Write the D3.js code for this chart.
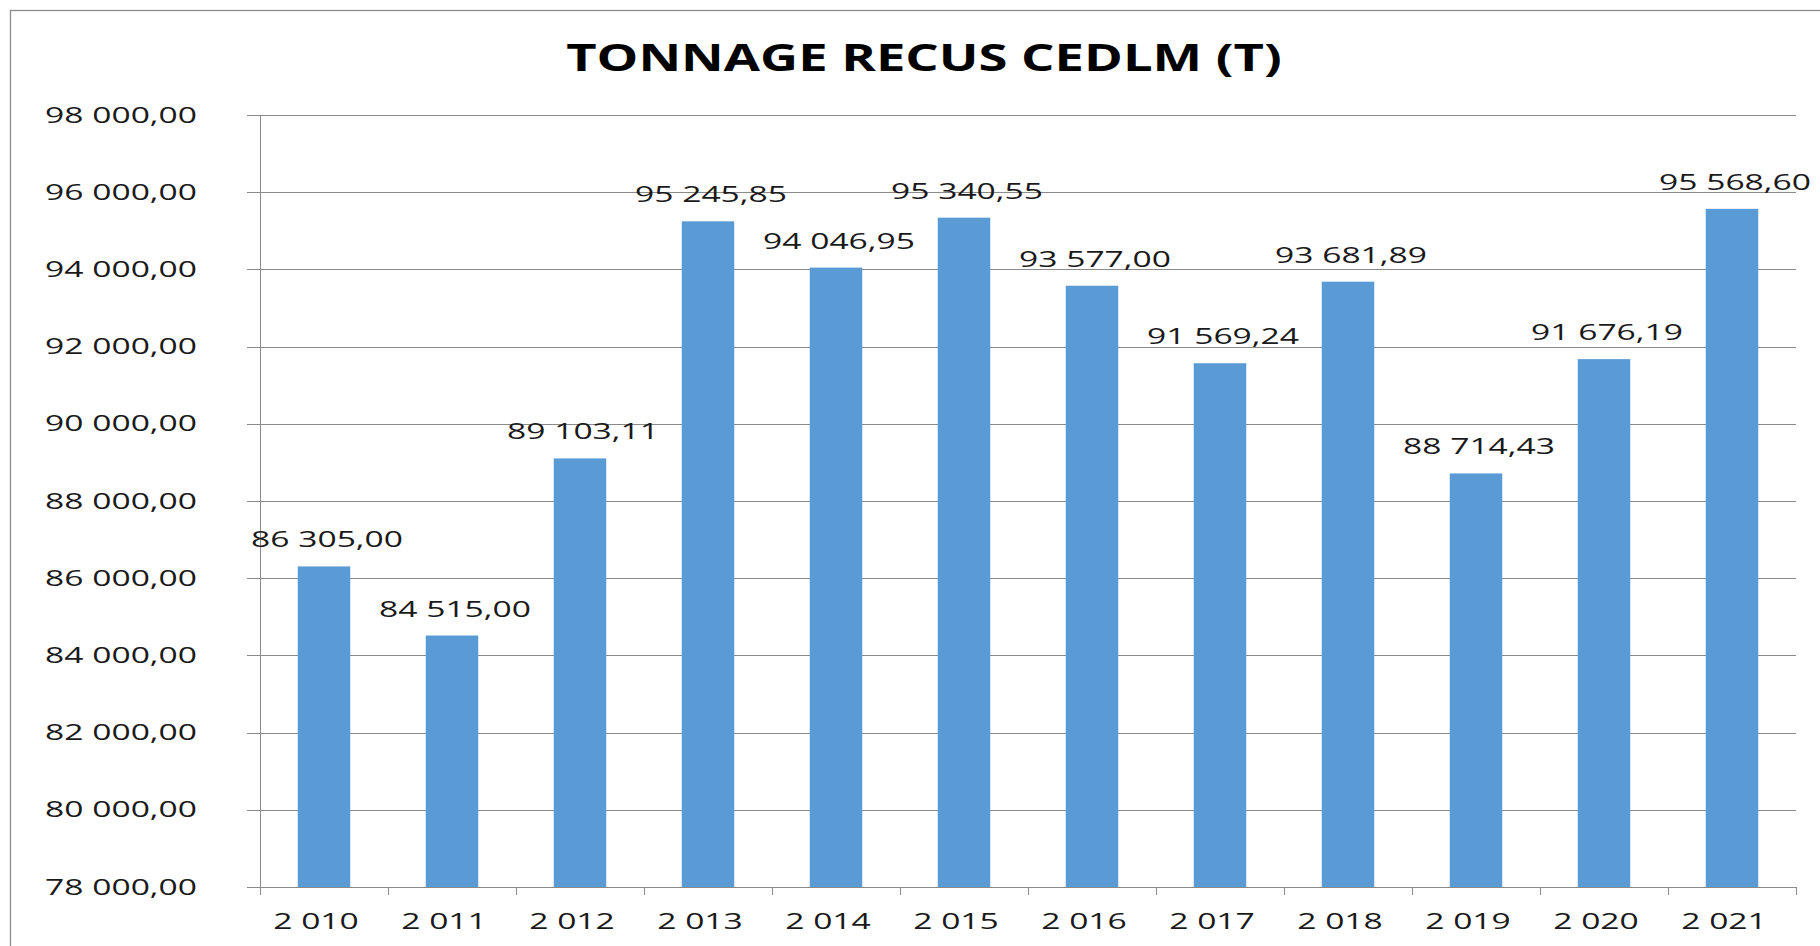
<!DOCTYPE html>
<html>
<head>
<meta charset="utf-8">
<script src="https://cdn.jsdelivr.net/npm/d3@7"></script>
<style>
  html, body { margin: 0; padding: 0; background: #fff; }
  svg { display: block; font-family: "Open Sans", sans-serif; }
</style>
</head>
<body>
<div id="chart"></div>
<script>
// data
const TITLE = "TONNAGE RECUS CEDLM (T)";
const YEARS = [2010, 2011, 2012, 2013, 2014, 2015, 2016, 2017, 2018, 2019, 2020, 2021];
const TONNAGE = [86305.00, 84515.00, 89103.11, 95245.85, 94046.95, 95340.55,
                 93577.00, 91569.24, 93681.89, 88714.43, 91676.19, 95568.60];
const Y_TICKS = [78000, 80000, 82000, 84000, 86000, 88000, 90000, 92000, 94000, 96000, 98000];

const W = 1820, H = 946;
const margin = { top: 115, right: 24, bottom: 59, left: 260 };
const width = W - margin.left - margin.right;
const height = H - margin.top - margin.bottom;

// french-style number formatting: "98 000,00"
const fr = d3.formatLocale({ decimal: ",", thousands: " ", grouping: [3], currency: ["", ""] });
const fmtVal = fr.format(",.2f");
const fmtYear = fr.format(",");

// the picture is stretched horizontally, so stretch the glyphs too
function stretch(sel, k) {
  sel.each(function () {
    const len = this.getComputedTextLength();
    d3.select(this).attr("textLength", len * k).attr("lengthAdjust", "spacingAndGlyphs");
  });
}

const svg = d3.select("#chart").append("svg")
  .attr("width", W)
  .attr("height", H);

// chart frame (only top and left edges are inside the picture)
svg.append("rect")
  .attr("x", 10.5).attr("y", 10.5)
  .attr("width", W + 20).attr("height", H + 20)
  .attr("fill", "none")
  .attr("stroke", "#8c8c8c")
  .attr("stroke-width", 1.3);

svg.append("text")
  .attr("x", 924)
  .attr("y", 71)
  .attr("text-anchor", "middle")
  .attr("font-size", 37)
  .attr("font-weight", 700)
  .attr("fill", "#000")
  .text(TITLE)
  .call(stretch, 1.42);

const g = svg.append("g").attr("transform", `translate(${margin.left},${margin.top})`);

const x = d3.scaleBand()
  .domain(YEARS)
  .range([0, width])
  .paddingInner(0.59)
  .paddingOuter(0.295);

const xCat = d3.scaleBand().domain(YEARS).range([0, width]).padding(0);

const y = d3.scaleLinear()
  .domain([78000, 98000])
  .range([height, 0]);

// gridlines
g.append("g")
  .selectAll("line")
  .data(Y_TICKS)
  .join("line")
  .attr("x1", -13)
  .attr("x2", width)
  .attr("y1", d => Math.round(y(d)) + 0.5)
  .attr("y2", d => Math.round(y(d)) + 0.5)
  .attr("stroke", "#8a8a8a")
  .attr("stroke-width", 1);

// y axis line
g.append("line")
  .attr("x1", 0.5).attr("x2", 0.5)
  .attr("y1", 0).attr("y2", height)
  .attr("stroke", "#8a8a8a");

// y tick labels
g.append("g")
  .selectAll("text")
  .data(Y_TICKS)
  .join("text")
  .attr("x", -63)
  .attr("y", d => y(d))
  .attr("dy", "0.36em")
  .attr("text-anchor", "end")
  .attr("font-size", 21)
  .attr("fill", "#1a1a1a")
  .text(d => fmtVal(d))
  .call(stretch, 1.6);

// x ticks at category boundaries
const bounds = YEARS.map(d => xCat(d)).concat([width]);
g.append("g")
  .selectAll("line")
  .data(bounds)
  .join("line")
  .attr("x1", d => Math.round(d) + 0.5)
  .attr("x2", d => Math.round(d) + 0.5)
  .attr("y1", height)
  .attr("y2", height + 8)
  .attr("stroke", "#8a8a8a");

// x labels
g.append("g")
  .selectAll("text")
  .data(YEARS)
  .join("text")
  .attr("x", d => xCat(d) + xCat.bandwidth() / 2 - 8)
  .attr("y", height + 42)
  .attr("text-anchor", "middle")
  .attr("font-size", 21)
  .attr("fill", "#1a1a1a")
  .text(d => fmtYear(d))
  .call(stretch, 1.6);

// bars
g.append("g")
  .selectAll("rect")
  .data(YEARS)
  .join("rect")
  .attr("x", d => x(d))
  .attr("y", (d, i) => y(TONNAGE[i]))
  .attr("width", x.bandwidth())
  .attr("height", (d, i) => height - y(TONNAGE[i]))
  .attr("fill", "#5b9bd5");

// data labels
g.append("g")
  .selectAll("text")
  .data(YEARS)
  .join("text")
  .attr("x", d => x(d) + x.bandwidth() / 2 + 3)
  .attr("y", (d, i) => y(TONNAGE[i]) - 19)
  .attr("text-anchor", "middle")
  .attr("font-size", 21)
  .attr("fill", "#1a1a1a")
  .text((d, i) => fmtVal(TONNAGE[i]))
  .call(stretch, 1.6);
</script>
</body>
</html>
